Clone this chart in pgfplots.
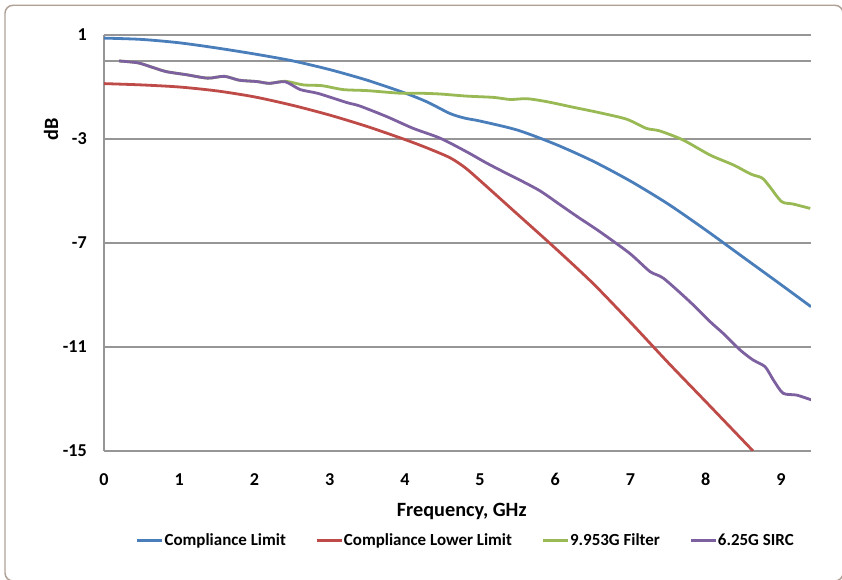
\documentclass[border=0pt]{standalone}
\usepackage{fontspec}
\setmainfont{Carlito}
\usepackage{pgfplots}
\pgfplotsset{compat=1.18}

\definecolor{cblue}{HTML}{4A7EBB}
\definecolor{cred}{HTML}{BE4B48}
\definecolor{cgreen}{HTML}{98B954}
\definecolor{cpurple}{HTML}{7D60A0}
\definecolor{gridgray}{RGB}{150,150,150}
\definecolor{framecol}{RGB}{175,160,150}

\newcommand{\legfont}{\fontsize{12.7}{15}\selectfont\bfseries}
\newcommand{\tickfont}{\fontsize{13.6}{16}\selectfont\bfseries}
\newcommand{\titlefont}{\fontsize{15.2}{18}\selectfont\bfseries}

\begin{document}
\begin{tikzpicture}
\begin{axis}[
  at={(0,0)}, anchor=south west,
  scale only axis, width=530.25pt, height=312pt,
  xmin=0, xmax=9.4, ymin=-15, ymax=1,
  xtick={0,1,...,9}, ytick={-15,-11,-7,-3,1},
  extra y ticks={0}, extra y tick labels={},
  extra y tick style={grid=major},
  ymajorgrids,
  major grid style={gridgray, line width=0.9pt},
  axis x line*=bottom, axis y line*=left,
  axis line style={gridgray, line width=0.9pt},
  major tick length=0pt,
  ticklabel style={font=\tickfont},
  /pgf/number format/assume math mode=true,
  yticklabel style={anchor=east, inner sep=0pt, xshift=-12.75pt},
  xticklabel style={anchor=center, inner sep=0pt, yshift=-21.2pt},
  ylabel={dB},
  ylabel style={font=\titlefont, at={(axis description cs:-0.075,0.774)}, anchor=center},
  xlabel={Frequency, GHz},
  xlabel style={font=\titlefont, at={(axis description cs:0.506,0)}, anchor=base, yshift=-49.5pt},
  legend columns=4,
  legend style={draw=none, fill=none, at={(axis description cs:0.511,-0.216)}, anchor=center,
    font=\legfont, inner sep=0pt, nodes={inner sep=0.6pt},
    /tikz/every even column/.append style={column sep=21.5pt}},
  legend image code/.code={\draw[#1] (0pt,0pt) -- (18.75pt,0pt);},
  every axis plot/.append style={line width=2.1pt, smooth, tension=0.45},
]
% Compliance Limit
\addplot[cblue] coordinates {
(0,0.88) (0.5,0.83) (1,0.70) (1.5,0.50) (2,0.27) (2.5,0.01) (3,-0.33) (3.5,-0.74)
(4,-1.23) (4.3,-1.58) (4.6,-2.02) (4.8,-2.20) (5,-2.31) (5.5,-2.66) (6,-3.20)
(6.5,-3.85) (7,-4.62) (7.5,-5.50) (8,-6.50) (8.5,-7.55) (9,-8.60) (9.4,-9.45)};
\addlegendentry{Compliance Limit}
% Compliance Lower Limit
\addplot[cred] coordinates {
(0,-0.87) (0.5,-0.92) (1,-1.00) (1.5,-1.15) (2,-1.38) (2.5,-1.70) (3,-2.08)
(3.5,-2.52) (4,-3.02) (4.3,-3.35) (4.6,-3.72) (4.8,-4.10) (5,-4.60) (5.5,-5.90)
(6,-7.20) (6.5,-8.55) (7,-10.05) (7.5,-11.60) (8,-13.10) (8.63,-15.00)};
\addlegendentry{Compliance Lower Limit}
% 9.953G Filter
\addplot[cgreen] coordinates {
(0.2,0.00) (0.45,-0.07) (0.65,-0.25) (0.83,-0.41) (1.1,-0.53) (1.38,-0.66)
(1.6,-0.59) (1.8,-0.74) (2.03,-0.79) (2.2,-0.86) (2.41,-0.78) (2.65,-0.92)
(2.9,-0.95) (3.18,-1.10) (3.5,-1.14) (3.94,-1.24) (4.2,-1.24) (4.47,-1.27)
(4.82,-1.35) (5.18,-1.40) (5.4,-1.48) (5.62,-1.45) (5.88,-1.56) (6.24,-1.78)
(6.59,-1.99) (6.95,-2.24) (7.21,-2.59) (7.39,-2.69) (7.70,-3.04) (8.06,-3.62)
(8.37,-4.00) (8.6,-4.35) (8.75,-4.50) (8.85,-4.83) (9.01,-5.41) (9.16,-5.50)
(9.39,-5.67)};
\addlegendentry{9.953G Filter}
% 6.25G SIRC
\addplot[cpurple] coordinates {
(0.2,0.00) (0.45,-0.07) (0.65,-0.25) (0.83,-0.41) (1.1,-0.53) (1.38,-0.66)
(1.6,-0.59) (1.8,-0.74) (2.03,-0.79) (2.2,-0.86) (2.41,-0.80) (2.61,-1.10)
(2.85,-1.25) (3.23,-1.60) (3.40,-1.73) (3.76,-2.14) (4.11,-2.59) (4.47,-2.97)
(4.82,-3.49) (5.09,-3.93) (5.35,-4.32) (5.53,-4.58) (5.8,-5.00) (6.05,-5.50)
(6.3,-6.00) (6.59,-6.56) (6.99,-7.40) (7.26,-8.10) (7.44,-8.36) (7.79,-9.26)
(8.06,-10.03) (8.23,-10.47) (8.46,-11.12) (8.63,-11.50) (8.79,-11.76)
(8.90,-12.27) (9.03,-12.78) (9.21,-12.85) (9.41,-13.04)};
\addlegendentry{6.25G SIRC}
\end{axis}
\pgfresetboundingbox
\useasboundingbox (-78pt,-96.75pt) rectangle (553.5pt,338.25pt);
% chart area frame
\draw[framecol, line width=1.1pt, rounded corners=6pt]
  (-74.25pt,-97.5pt) rectangle (554.25pt,334.3pt);
\end{tikzpicture}
\end{document}
